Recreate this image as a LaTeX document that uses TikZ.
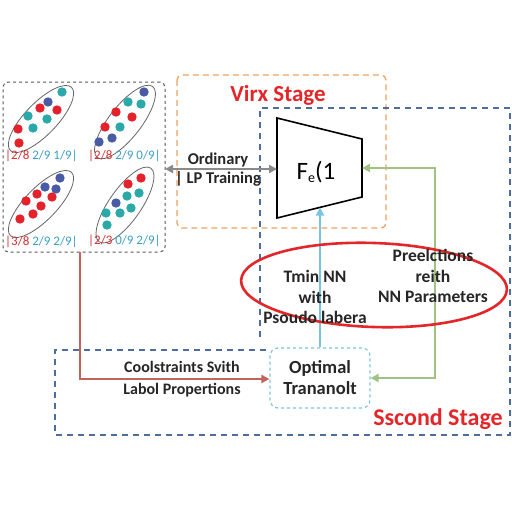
\documentclass[tikz,border=0pt]{standalone}
\usepackage{fontspec}
\setmainfont{Carlito}
\usetikzlibrary{arrows.meta,shapes.geometric}
\definecolor{dred}{HTML}{E5222B}
\definecolor{dteal}{HTML}{2AA9A8}
\definecolor{dblue}{HTML}{4A5BA6}
\definecolor{lred}{HTML}{D93030}
\definecolor{lteal}{HTML}{3C9FC4}
\definecolor{orng}{HTML}{F0A262}
\definecolor{sblue}{HTML}{4D6E9C}
\definecolor{arrgray}{HTML}{8A8A8A}
\definecolor{arrred}{HTML}{C4625C}
\definecolor{arrcyan}{HTML}{78C4E2}
\definecolor{arrgreen}{HTML}{A2C283}
\definecolor{ttred}{HTML}{E3262A}
\tikzset{
  dotR/.style={fill=dred},
  dotT/.style={fill=dteal},
  dotB/.style={fill=dblue},
  cluster/.style={draw=black!60, line width=0.8pt},
  lbl/.style={font=\fontsize{13}{14}\selectfont, inner sep=0pt},
  boxtext/.style={font=\fontsize{16.5}{19}\selectfont\bfseries, align=center, text=black!85, inner sep=0pt},
  stagetitle/.style={font=\fontsize{24}{26}\selectfont\bfseries, text=ttred, inner sep=0pt},
  conn/.style={line width=2.2pt, -{Triangle[length=8pt,width=8pt]}},
}
\begin{document}
\begin{tikzpicture}[x=1pt,y=-1pt]
\useasboundingbox (0,0) rectangle (512,512);
\fill[white] (0,0) rectangle (512,512);

% stage frames
\draw[orng, line width=1.3pt, dash pattern=on 6pt off 4pt, rounded corners=5pt] (177,75) rectangle (386,228);
\draw[sblue, line width=1.1pt, dash pattern=on 6pt off 5pt] (260,337) -- (260,108) -- (510,108) -- (510,435) -- (55,435) -- (55,350) -- (268,350);

% data box
\node[draw=black!65, dashed, line width=1pt, rounded corners=5pt, minimum width=162pt, minimum height=170pt, inner sep=0pt] (data) at (84,167) {};

% cluster 1
\draw[cluster, rotate around={46:(41,119)}] (41,119) ellipse (44pt and 16pt);
\foreach \p/\s in {(62,92)/dotT,(48,102)/dotB,(40,108)/dotR,(57,110)/dotR,(28,116)/dotT,(47,119)/dotT,(18,129)/dotR,(33,128)/dotT,(19,143)/dotR}
  \fill[\s] \p circle (4.7pt);
\node[lbl, anchor=west] (l1) at (5,156) {\textcolor{lred}{|2/8} \textcolor{lteal}{2/9 1/9|}};

% cluster 2
\draw[cluster, rotate around={52:(125,122)}] (125,122) ellipse (45pt and 16pt);
\foreach \p/\s in {(144,92)/dotB,(128,102)/dotT,(141,104)/dotT,(116,112)/dotR,(132,117)/dotR,(105,127)/dotR,(120,127)/dotT,(99,142)/dotB,(112,138)/dotB}
  \fill[\s] \p circle (4.7pt);
\node[lbl, anchor=west] (l2) at (88,156) {\textcolor{lred}{|2/8} \textcolor{lteal}{2/9 0/9|}};

% cluster 3
\draw[cluster, rotate around={46:(41,204)}] (41,204) ellipse (44pt and 16pt);
\foreach \p/\s in {(60,178)/dotB,(45,187)/dotB,(56,189)/dotB,(37,194)/dotR,(52,197)/dotR,(26,201)/dotR,(41,206)/dotR,(33,214)/dotR,(20,219)/dotR}
  \fill[\s] \p circle (4.7pt);
\node[lbl, anchor=west] (l3) at (5,242) {\textcolor{lred}{|3/8} \textcolor{lteal}{2/9 2/9|}};

% cluster 4
\draw[cluster, rotate around={55:(125,205)}] (125,205) ellipse (45pt and 16pt);
\foreach \p/\s in {(141,178)/dotR,(128,184)/dotR,(139,193)/dotT,(127,196)/dotT,(116,203)/dotB,(131,208)/dotT,(106,213)/dotT,(120,213)/dotT,(107,225)/dotT}
  \fill[\s] \p circle (4.7pt);
\node[lbl, anchor=west] (l4) at (88,241) {\textcolor{lred}{|2/3} \textcolor{lteal}{0/9 2/9|}};

% model (trapezoid)
\draw[black, line width=1.6pt] (277,118) -- (362,139) -- (362,197) -- (277,218) -- cycle;
\coordinate (trapL) at (277,169);
\coordinate (trapR) at (362,168);
\coordinate (trapB) at (320,207.5);
\node[font=\fontsize{25}{28}\selectfont, inner sep=0pt] (model) at (316,172) {F\raisebox{-3pt}{\fontsize{14}{15}\selectfont e}(1};

% optimal transport
\node[draw=arrcyan, dashed, line width=1.2pt, rounded corners=8pt, minimum width=100pt, minimum height=60pt, boxtext, font=\fontsize{18.5}{21}\selectfont\bfseries] (ot) at (320,378) {Optimal\\Trananolt};

% titles
\node[stagetitle, font=\fontsize{23}{26}\selectfont\bfseries] (first) at (278,95) {Virx Stage};
\node[stagetitle] (second) at (438,419) {Sscond Stage};

% connectors
\coordinate (dataE) at (165,169);
\draw[arrgray, line width=2.2pt, {Triangle[length=8pt,width=8pt]}-{Triangle[length=8pt,width=8pt]}] (dataE) -- (trapL);
\node[boxtext] (ordtxt) at (218,170) {Ordinary\\| LP Training};

\coordinate (dataS) at (80,252);
\coordinate (redC) at (80,379);
\draw[arrred, conn] (dataS) -- (redC) -- (ot.west |- redC);
\node[boxtext, font=\fontsize{16}{22}\selectfont\bfseries] (constr) at (182,379) {Coolstraints Svith\\Labol Propertions};

\draw[arrcyan, conn] (ot.north) -- (trapB);

\coordinate (gT) at (435,168);
\coordinate (gB) at (435,378);
\draw[arrgreen, line width=2.2pt, {Triangle[length=8pt,width=8pt]}-{Triangle[length=8pt,width=8pt]}] (trapR) -- (gT) -- (gB) -- (ot.east);

% highlight ellipse and labels
\draw[ttred, line width=2.6pt, rotate around={-2:(374,285)}] (374,285) ellipse (133pt and 42pt);
\node[boxtext, font=\fontsize{17.5}{20.5}\selectfont\bfseries] (train) at (315,297) {Tmin NN\\with\\Psoudo labera};
\node[boxtext, font=\fontsize{17.5}{20.5}\selectfont\bfseries] (pred) at (433,276) {Preelctions\\reith\\NN Parameters};
\end{tikzpicture}
\end{document}
